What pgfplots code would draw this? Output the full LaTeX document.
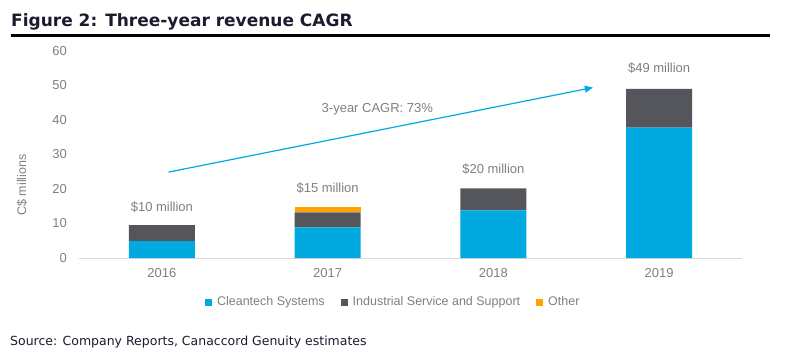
\documentclass[border=0pt]{standalone}
\usepackage{pgfplots}
\pgfplotsset{compat=1.18}
\usepackage{fontspec}
\setmainfont{Liberation Sans}
\newfontfamily\verdana{DejaVu Sans}
\usetikzlibrary{arrows.meta}
\definecolor{cyanb}{HTML}{00A9E0}
\definecolor{darkg}{HTML}{54565B}
\definecolor{orng}{HTML}{FFA300}
\definecolor{txtg}{HTML}{7F7F7F}
\definecolor{axg}{HTML}{D9D9D9}
\definecolor{navy}{HTML}{1B1B2F}
\begin{document}
\begin{tikzpicture}[x=1pt,y=1pt]
\useasboundingbox (0pt,0pt) rectangle (805pt,356pt);
\node[anchor=base west, inner sep=0, text=navy, font=\verdana\bfseries\fontsize{17}{20}\selectfont] at (11pt,329pt) {Figure 2: Three-year revenue CAGR};
\fill[black] (11pt,319.4pt) rectangle (770pt,322.1pt);
\node[rotate=90, text=txtg, font=\fontsize{12.5}{14}\selectfont] at (22pt,171pt) {C\$ millions};
\begin{axis}[at={(79pt,98pt)}, anchor=south west, scale only axis, width=663pt, height=207pt,
  xmin=-0.5, xmax=3.5, ymin=0, ymax=60,
  ybar stacked, bar width=66pt,
  axis x line*=bottom, axis y line*=left,
  x axis line style={draw=axg, line width=1pt, -},
  y axis line style={draw=none},
  xtick style={draw=none}, ytick style={draw=none},
  xtick={0,1,2,3}, xticklabels={2016,2017,2018,2019},
  ytick={0,10,...,60},
  /pgf/number format/assume math mode=true,
  tick label style={font=\fontsize{13}{15}\selectfont, text=txtg},
  yticklabel style={inner sep=0pt, anchor=east, xshift=-12pt},
  xticklabel style={inner sep=0pt, anchor=north, yshift=-10pt},
  legend style={at={(axis description cs:0.474,-0.2126)}, anchor=center, draw=none, fill=none,
    legend columns=3, font=\fontsize{12.5}{14}\selectfont, text=txtg,
    /tikz/every even column/.append style={column sep=14pt}},
  legend image code/.code={\fill[#1] (0pt,-3.5pt) rectangle (7pt,3.5pt); \path (0pt,0pt) -- (10pt,0pt);},
]
\addplot[fill=cyanb, draw=none] coordinates {(0,4.9) (1,8.9) (2,13.8) (3,37.8)};
\addlegendentry{Cleantech Systems}
\addplot[fill=darkg, draw=none] coordinates {(0,4.6) (1,4.3) (2,6.4) (3,11.2)};
\addlegendentry{Industrial Service and Support}
\addplot[fill=orng, draw=none] coordinates {(0,0) (1,1.45) (2,0) (3,0)};
\addlegendentry{Other}
\node[text=txtg, font=\fontsize{13}{15}\selectfont] at (axis cs:0,14.7) {\$10 million};
\node[text=txtg, font=\fontsize{13}{15}\selectfont] at (axis cs:1,20.2) {\$15 million};
\node[text=txtg, font=\fontsize{13}{15}\selectfont] at (axis cs:2,25.7) {\$20 million};
\node[text=txtg, font=\fontsize{13}{15}\selectfont] at (axis cs:3,55) {\$49 million};
\draw[cyanb, line width=1.2pt, -{Triangle[length=8pt,width=7pt]}] (axis cs:0.04,24.9) -- (axis cs:2.6,49.4);
\node[text=txtg, font=\fontsize{13}{15}\selectfont] at (axis cs:1.30,43) {3-year CAGR: 73\%};
\end{axis}
\node[anchor=base west, inner sep=0, text=navy, font=\verdana\fontsize{12.5}{14}\selectfont] at (10pt,11pt) {Source: Company Reports, Canaccord Genuity estimates};
\end{tikzpicture}
\end{document}
